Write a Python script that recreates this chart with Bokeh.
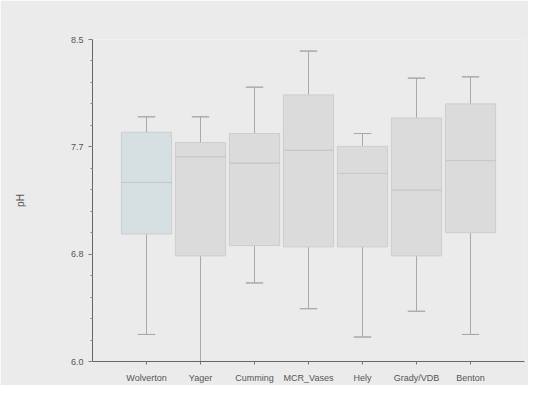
from bokeh.plotting import figure
from bokeh.models import FactorRange, Range1d, FixedTicker, PrintfTickFormatter, ColumnDataSource
from bokeh.embed import file_html
from bokeh.resources import INLINE

categories = ["Wolverton", "Yager", "Cumming", "MCR_Vases", "Hely", "Grady/VDB", "Benton"]
upper = [7.90, 7.90, 8.13, 8.41, 7.77, 8.20, 8.21]
q3 = [7.78, 7.70, 7.77, 8.07, 7.67, 7.89, 8.00]
median = [7.39, 7.59, 7.54, 7.64, 7.46, 7.33, 7.56]
q1 = [6.99, 6.82, 6.90, 6.89, 6.89, 6.82, 7.00]
lower = [6.21, 6.00, 6.61, 6.41, 6.19, 6.39, 6.21]
y_ticks = [6.0, 6.8333, 7.6667, 8.5]

fills = ["#d6dfe2"] + ["#dbdbdb"] * 6

bg = "#ebebeb"
p = figure(width=528, height=385, output_backend="svg", toolbar_location=None,
           x_range=FactorRange(*categories, range_padding=0.5, range_padding_units="absolute"),
           y_range=Range1d(6.0, 8.5),
           min_border_left=92, min_border_right=4, min_border_top=39, min_border_bottom=22)
p.background_fill_color = bg
p.border_fill_color = bg
p.outline_line_color = None
p.grid.visible = False

src = ColumnDataSource(dict(cat=categories, upper=upper, q3=q3, median=median,
                            q1=q1, lower=lower, fill=fills))

# whiskers
p.segment(x0="cat", x1="cat", y0="q3", y1="upper", source=src, line_color="#a9a9a9", line_width=1)
p.segment(x0="cat", x1="cat", y0="lower", y1="q1", source=src, line_color="#a9a9a9", line_width=1)
p.rect(x="cat", y="upper", width=0.32, height=0.0001, source=src, line_color="#a9a9a9", fill_color=None)
p.rect(x="cat", y="lower", width=0.32, height=0.0001, source=src, line_color="#a9a9a9", fill_color=None)
# boxes
p.vbar(x="cat", top="q3", bottom="q1", width=0.93, source=src, fill_color="fill",
       line_color="#cdcdcd", line_width=1)
# medians
p.rect(x="cat", y="median", width=0.93, height=0.0001, source=src, line_color="#c8c8c8", fill_color=None)

p.yaxis.ticker = FixedTicker(ticks=y_ticks,
                             minor_ticks=[6.0 + i * 0.8333 / 5 for i in range(16)])
p.yaxis.formatter = PrintfTickFormatter(format="%.1f")
p.yaxis.axis_label = "pH"
p.yaxis.axis_label_standoff = 42
p.yaxis.axis_label_text_font_style = "normal"
p.yaxis.axis_label_text_font_size = "10px"
p.yaxis.axis_label_text_color = "#555555"

for ax in (p.xaxis, p.yaxis):
    ax.axis_line_color = "#666666"
    ax.major_tick_line_color = "#777777"
    ax.minor_tick_line_color = "#888888"
    ax.major_label_text_font = "Liberation Sans"
    ax.major_label_text_font_size = "9px"
    ax.major_label_text_color = "#555555"
    ax.axis_label_text_font = "Liberation Sans"
p.yaxis.major_tick_out = 4
p.yaxis.major_tick_in = 0
p.yaxis.minor_tick_out = 2
p.yaxis.minor_tick_in = 0
p.xaxis.major_tick_out = 3
p.xaxis.major_tick_in = 0
p.xaxis.major_label_standoff = 8

open("out.html", "w").write(file_html(p, INLINE))
